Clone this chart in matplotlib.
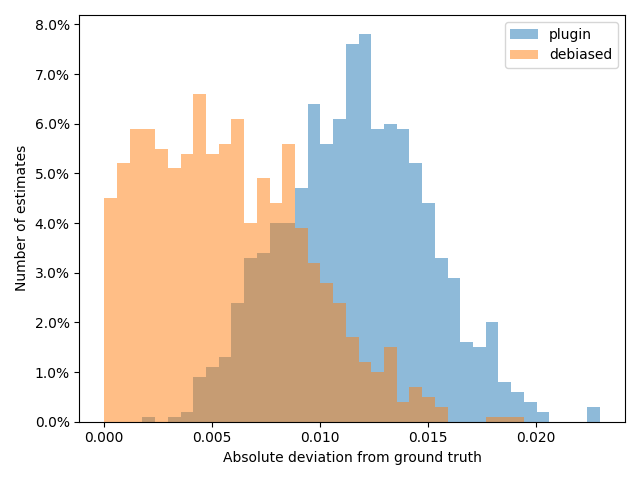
import matplotlib
matplotlib.use('Agg')
import matplotlib.pyplot as plt
from matplotlib.ticker import PercentFormatter
import numpy as np

# shared bin edges (39 bins)
edges = np.linspace(0, 0.02296, 40)
centers = (edges[:-1] + edges[1:]) / 2

# share of estimates per bin, in percent
plugin = [0.0, 0.0, 0.0, 0.1, 0.0, 0.1, 0.2, 0.9, 1.1, 1.3,
          2.4, 3.3, 3.4, 4.0, 4.0, 4.7, 6.4, 5.6, 6.1, 7.6,
          7.8, 5.9, 6.0, 5.9, 5.2, 4.4, 3.3, 2.9, 1.6, 1.5,
          2.0, 0.8, 0.6, 0.4, 0.2, 0.0, 0.0, 0.0, 0.3]
debiased = [4.5, 5.2, 5.9, 5.9, 5.5, 5.1, 5.4, 6.6, 5.4, 5.6,
            6.1, 4.0, 4.9, 4.4, 5.6, 3.9, 3.2, 2.8, 2.4, 1.7,
            1.2, 1.0, 1.5, 0.4, 0.7, 0.5, 0.3, 0.0, 0.0, 0.0,
            0.1, 0.1, 0.1, 0.0, 0.0, 0.0, 0.0, 0.0, 0.0]

fig, ax = plt.subplots(figsize=(6.4, 4.8), dpi=100)
ax.hist(centers, bins=edges, weights=np.array(plugin) / 100, alpha=0.5, label='plugin')
ax.hist(centers, bins=edges, weights=np.array(debiased) / 100, alpha=0.5, label='debiased')

ax.yaxis.set_major_formatter(PercentFormatter(xmax=1, decimals=1))
ax.set_xlabel('Absolute deviation from ground truth')
ax.set_ylabel('Number of estimates')
ax.legend(loc='upper right')

fig.tight_layout()
fig.savefig('out.png')
